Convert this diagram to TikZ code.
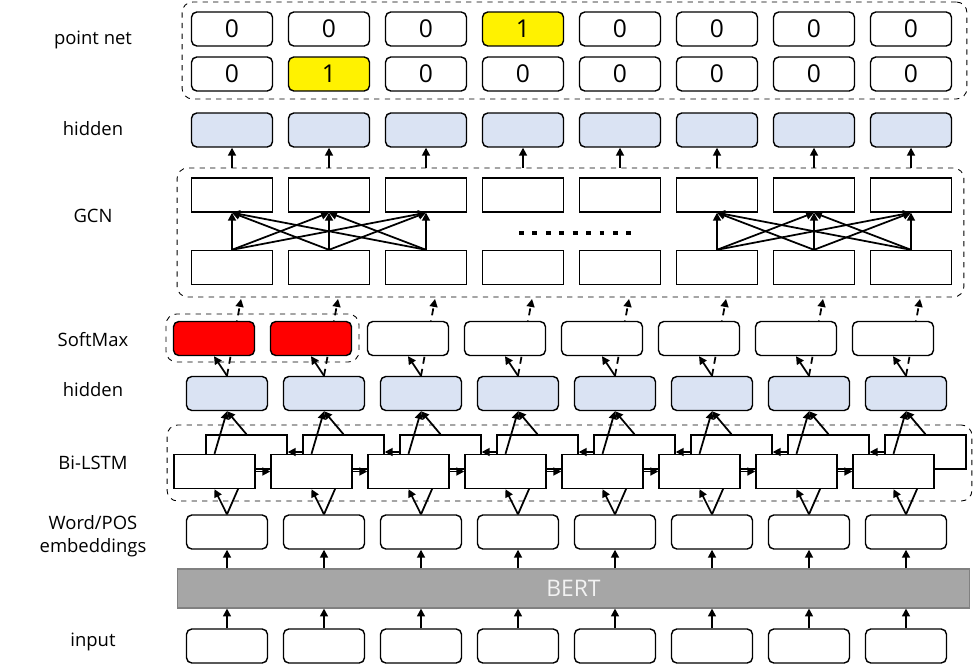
\documentclass[tikz,border=0pt]{standalone}
\usepackage{fontspec}
\setmainfont{Open Sans}
\usepackage{xcolor}
\usetikzlibrary{arrows.meta,positioning}
\definecolor{FillHid}{RGB}{218,227,243}
\definecolor{FillBert}{RGB}{166,166,166}
\definecolor{LineBert}{RGB}{128,128,128}
\definecolor{TextBert}{RGB}{242,242,242}

\begin{document}
\begin{tikzpicture}[x=0.02cm, y=-0.02cm,
    cell/.style={draw, rounded corners=3pt, fill=white, line width=0.8pt, minimum width=1.62cm, minimum height=0.68cm, inner sep=0pt},
    hidcell/.style={cell, fill=FillHid},
    sqcell/.style={draw, fill=white, line width=0.8pt, minimum width=1.62cm, minimum height=0.68cm, inner sep=0pt},
    group/.style={draw, dashed, rounded corners=6pt, line width=0.5pt, inner sep=0pt},
    lab/.style={font=\fontsize{10.5}{13}\selectfont, align=center},
    digit/.style={font=\fontsize{14}{16}\selectfont},
    arr/.style={-{Triangle[length=4.5pt, width=4.5pt]}, line width=1pt},
    darr/.style={arr, dash pattern=on 4pt off 3pt}
]
\useasboundingbox (0,0) rectangle (973,666);

%% ---- LABELS (left column) ----
\node[lab] (labPN)   at (93, 40)  {point net};
\node[lab] (labHT)   at (93, 129) {hidden};
\node[lab] (labGCN)  at (93, 216) {GCN};
\node[lab] (labSM)   at (93, 340) {SoftMax};
\node[lab] (labHL)   at (93, 390) {hidden};
\node[lab] (labLSTM) at (93, 463) {Bi-LSTM};
\node[lab] (labEMB)  at (93, 536) {Word/POS\\embeddings};
\node[lab] (labIN)   at (93, 642) {input};

%% ---- GROUPS (dashed frames) ----
\node[group, minimum width=15.7cm,  minimum height=1.94cm] (pnet) at (574.5, 50.5) {};
\node[group, minimum width=15.74cm, minimum height=2.58cm] (gcn)  at (570.5, 232.5) {};
\node[group, minimum width=16.1cm,  minimum height=1.52cm] (lstm) at (569.5, 463) {};

%% ---- POINT NET ----
\foreach \v/\c [count=\i] in {0/white,0/white,0/white,1/yellow,0/white,0/white,0/white,0/white}
  \node[cell, digit, fill=\c] (pnA\i) at ({232+97*(\i-1)}, 29) {\v};
\foreach \v/\c [count=\i] in {0/white,1/yellow,0/white,0/white,0/white,0/white,0/white,0/white}
  \node[cell, digit, fill=\c] (pnB\i) at ({232+97*(\i-1)}, 74) {\v};

%% ---- HIDDEN (top) + GCN ----
\foreach \i in {1,...,8} {
  \node[hidcell] (hidT\i) at ({232+97*(\i-1)}, 130) {};
  \node[sqcell]  (gcnT\i) at ({232+97*(\i-1)}, 195) {};
  \node[sqcell]  (gcnB\i) at ({232+97*(\i-1)}, 267.5) {};
  \draw[arr] (gcnT\i |- gcn.north) -- (hidT\i.south);
}
\foreach \s in {1,2,3}
  \foreach \t in {1,2,3}
    \draw[arr] (gcnB\s.north) -- (gcnT\t.south);
\foreach \s in {6,7,8}
  \foreach \t in {6,7,8}
    \draw[arr] (gcnB\s.north) -- (gcnT\t.south);
\draw[line width=2.8pt, dash pattern=on 2.8pt off 4.84pt] (519,233) -- (632,233);

%% ---- HIDDEN (lower), EMBEDDINGS, INPUT ----
\foreach \i in {1,...,8} {
  \node[hidcell] (hid\i) at ({227+97*(\i-1)}, 393.5) {};
  \node[cell]    (emb\i) at ({227+97*(\i-1)}, 532) {};
  \node[cell]    (inp\i) at ({227+97*(\i-1)}, 646) {};
  \coordinate (gin\i) at ({241+97*(\i-1)}, 299);
  \draw[darr] (hid\i.north) -- (gin\i);
}

%% ---- SOFTMAX ----
\foreach \c [count=\i] in {red,red,white,white,white,white,white,white} {
  \node[cell, fill=\c] (soft\i) at ({214+97*(\i-1)}, 338.5) {};
  \draw[arr] (hid\i.north) -- (soft\i.south);
}
\node[group, minimum width=3.86cm, minimum height=0.96cm] (softgrp) at (262.5, 338) {};

%% ---- BI-LSTM (back = backward, front = forward) ----
\foreach \i in {1,...,8} {
  \node[sqcell] (lstmB\i) at ({246.5+97*(\i-1)}, 452) {};
  \draw[arr] (emb\i.north) -- (lstmB\i.south);
  \node[sqcell] (lstmF\i) at ({214.5+97*(\i-1)}, 471.5) {};
  \draw[arr] (emb\i.north) -- (lstmF\i.south);
  \draw[arr] (lstmF\i.north) -- (hid\i.south);
  \draw[arr] (lstmB\i.north) -- (hid\i.south);
}
\foreach \i [evaluate=\i as \j using int(\i+1)] in {1,...,7} {
  \draw[arr] (lstmF\i.east) -- (lstmF\j.west);
  \draw[arr] (lstmB\j.west) -- (lstmB\i.east);
}

%% ---- BERT ----
\node[draw=LineBert, fill=FillBert, line width=0.6pt, minimum width=15.86cm, minimum height=0.78cm,
      text=TextBert, font=\fontsize{13}{15}\selectfont] (bert) at (573.5, 588.5) {BERT};
\foreach \i in {1,...,8} {
  \draw[arr] (emb\i.south |- bert.north) -- (emb\i.south);
  \draw[arr] (inp\i.north) -- (inp\i.north |- bert.south);
}

\end{tikzpicture}
\end{document}
